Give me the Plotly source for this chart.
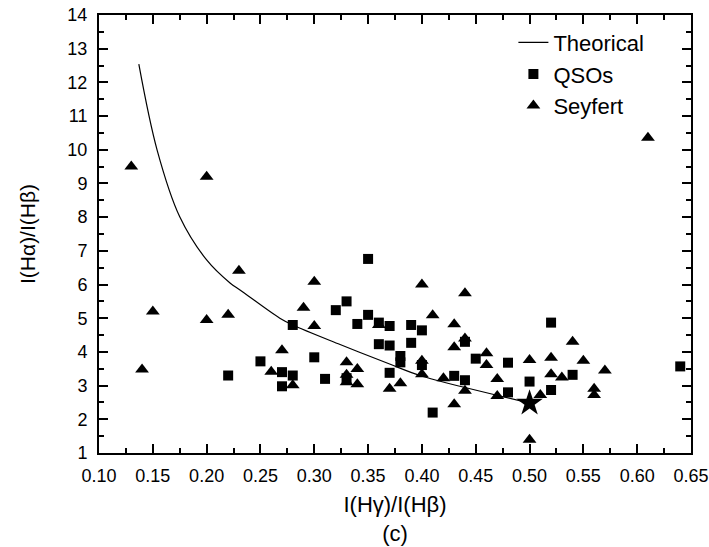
import plotly.graph_objects as go

# Theoretical curve
theory_x = [0.137, 0.154, 0.175, 0.200, 0.222, 0.231, 0.268, 0.280, 0.324, 0.370, 0.398, 0.417, 0.500]
theory_y = [12.54, 9.99, 8.01, 6.73, 6.04, 5.84, 5.00, 4.80, 4.22, 3.64, 3.30, 3.13, 2.48]

star_x = [0.50]
star_y = [2.48]

qso_x = [0.22, 0.25, 0.27, 0.27, 0.28, 0.28, 0.30, 0.31, 0.32, 0.33, 0.33, 0.34, 0.35,
         0.35, 0.36, 0.36, 0.37, 0.37, 0.37, 0.38, 0.38, 0.39, 0.39, 0.40, 0.40, 0.41,
         0.43, 0.44, 0.44, 0.45, 0.48, 0.48, 0.50, 0.52, 0.52, 0.54, 0.64]
qso_y = [3.30, 3.72, 3.40, 2.98, 3.30, 4.80, 3.84, 3.20, 5.24, 5.50, 3.22, 4.83, 6.76,
         5.10, 4.87, 4.23, 4.77, 4.19, 3.38, 3.88, 3.69, 4.80, 4.27, 4.64, 3.61, 2.20,
         3.29, 4.30, 3.16, 3.80, 3.68, 2.80, 3.12, 4.87, 2.87, 3.32, 3.57]

sey_x = [0.13, 0.14, 0.15, 0.20, 0.20, 0.22, 0.23, 0.26, 0.27, 0.28, 0.29, 0.30, 0.30,
         0.33, 0.33, 0.33, 0.34, 0.34, 0.36, 0.37, 0.38, 0.40, 0.40, 0.40, 0.41, 0.42,
         0.43, 0.43, 0.43, 0.44, 0.44, 0.44, 0.46, 0.46, 0.47, 0.47, 0.50, 0.50, 0.51,
         0.52, 0.52, 0.53, 0.54, 0.55, 0.56, 0.56, 0.57, 0.61]
sey_y = [9.50, 3.48, 5.20, 9.20, 4.95, 5.10, 6.41, 3.41, 4.05, 3.01, 5.31, 6.08, 4.77,
         3.69, 3.32, 3.10, 3.49, 3.04, 4.80, 2.91, 3.07, 6.00, 3.74, 3.34, 5.09, 3.22,
         4.82, 4.14, 2.45, 5.74, 4.40, 2.85, 3.96, 3.61, 3.20, 2.69, 3.76, 1.39, 2.72,
         3.83, 3.34, 3.24, 4.30, 3.74, 2.91, 2.72, 3.45, 10.36]

x_ticks = [0.10, 0.15, 0.20, 0.25, 0.30, 0.35, 0.40, 0.45, 0.50, 0.55, 0.60, 0.65]
x_ticklabels = ["0.10", "0.15", "0.20", "0.25", "0.30", "0.35", "0.40", "0.45",
                "0.50", "0.55", "0.60", "0.65"]
y_ticks = list(range(1, 15))

FONT = "Liberation Sans, Arial, sans-serif"

fig = go.Figure()
fig.add_trace(go.Scatter(x=theory_x, y=theory_y, mode="lines", name="Theorical",
                         line=dict(color="black", width=1.2, shape="spline", smoothing=1.0)))
fig.add_trace(go.Scatter(x=qso_x, y=qso_y, mode="markers", name="QSOs",
                         marker=dict(symbol="square", size=10, color="black")))
fig.add_trace(go.Scatter(x=sey_x, y=sey_y, mode="markers", name="Seyfert",
                         marker=dict(symbol="triangle-up", size=12, color="black")))
fig.add_trace(go.Scatter(x=star_x, y=star_y, mode="markers", showlegend=False,
                         marker=dict(symbol="star", size=20, color="black")))

axis_common = dict(
    showgrid=False, zeroline=False, showline=True, linecolor="black", linewidth=2,
    mirror="ticks", ticks="inside", ticklen=9, tickwidth=1.5, tickcolor="black",
    tickfont=dict(family=FONT, size=18, color="black"), automargin=False,
    ticklabeloverflow="allow",
)

fig.update_xaxes(
    range=[0.10, 0.65], tickvals=x_ticks, ticktext=x_ticklabels,
    minor=dict(ticks="inside", ticklen=5, tickwidth=1.5, tickcolor="black", dtick=0.025, tick0=0.1),
    title=dict(text="I(Hγ)/I(Hβ)<br>(c)", font=dict(family=FONT, size=22, color="black"), standoff=12),
    ticklabelstandoff=5,
    **axis_common,
)
fig.update_yaxes(
    range=[1, 14], tickvals=y_ticks,
    minor=dict(ticks="inside", ticklen=5, tickwidth=1.5, tickcolor="black", dtick=0.5, tick0=1),
    title=dict(text="I(Hα)/I(Hβ)", font=dict(family=FONT, size=21, color="black"), standoff=26),
    ticklabelstandoff=6,
    **axis_common,
)

fig.update_layout(
    width=709, height=547,
    margin=dict(l=99, r=18, t=15, b=94),
    paper_bgcolor="white", plot_bgcolor="white",
    font=dict(family=FONT, color="black"),
    legend=dict(x=0.70, y=0.985, xanchor="left", yanchor="top",
                font=dict(family=FONT, size=22, color="black"),
                bgcolor="rgba(0,0,0,0)", tracegroupgap=0, itemwidth=30),
    showlegend=True,
)

# remove the browser's default 8px page margin so the figure fills the window
fig.write_html("out.html", config={"displayModeBar": False},
               post_script="document.body.style.margin='0px';")
